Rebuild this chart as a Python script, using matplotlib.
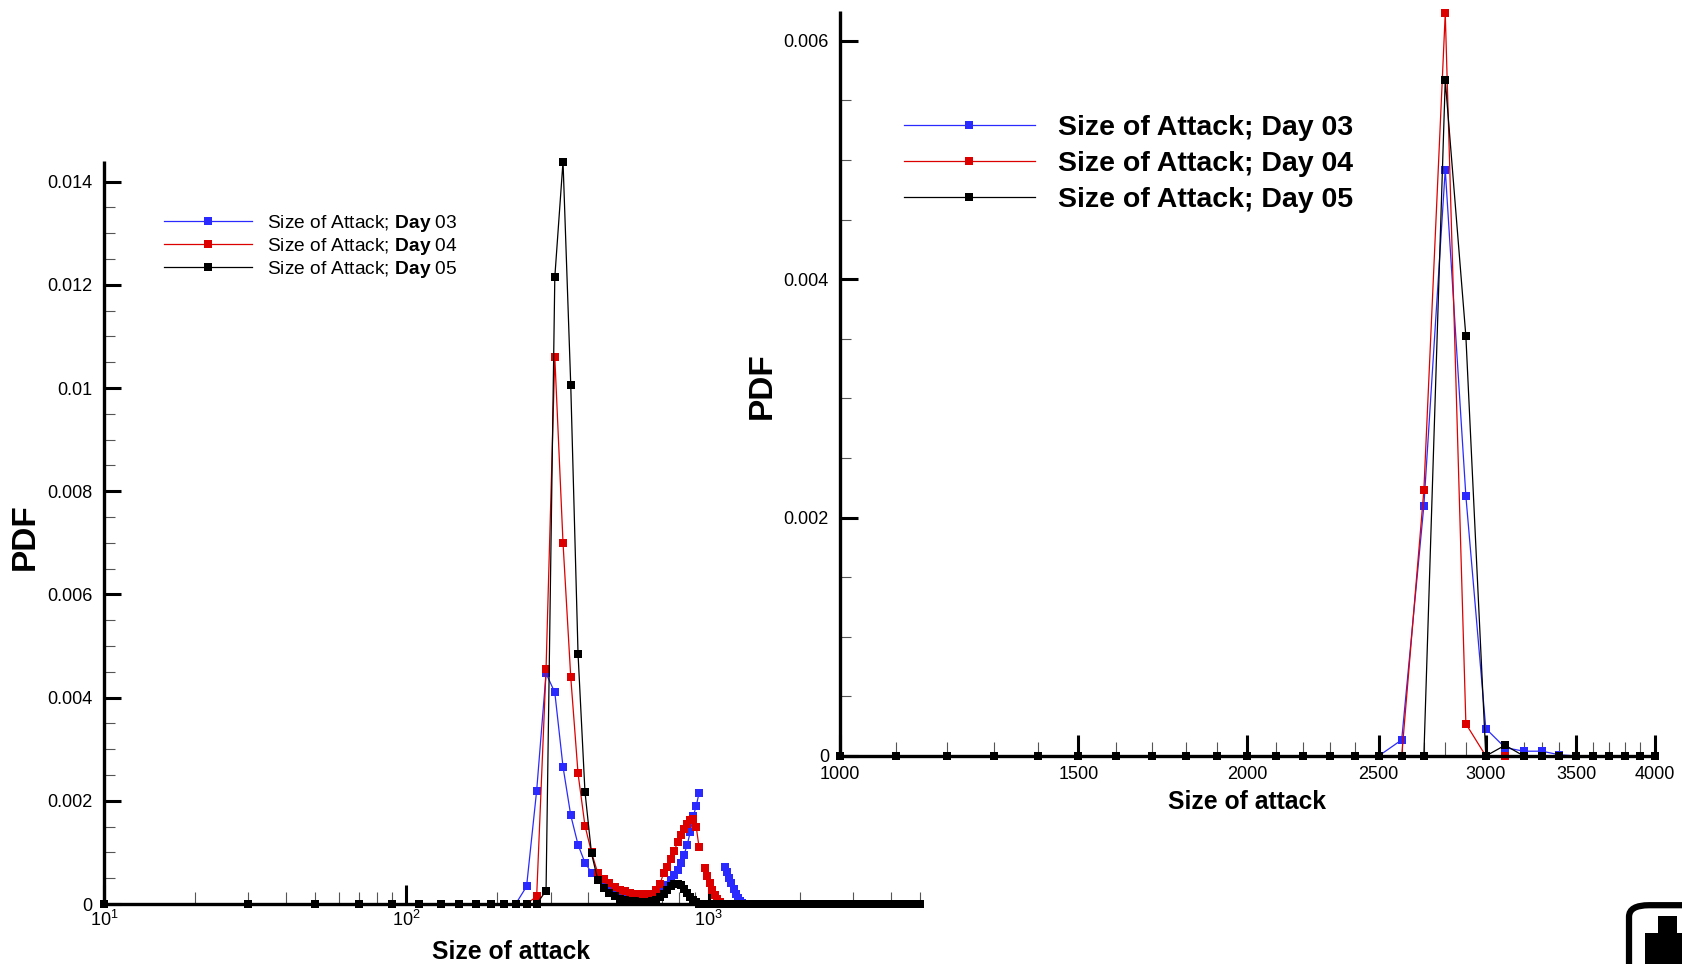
import numpy as np
import matplotlib.pyplot as plt
from matplotlib.ticker import FixedLocator, FuncFormatter, LogLocator, NullFormatter
from matplotlib.patches import FancyBboxPatch, Rectangle

plt.rcParams['font.family'] = ['Liberation Sans', 'DejaVu Sans']
plt.rcParams['mathtext.fontset'] = 'custom'
plt.rcParams['mathtext.rm'] = 'Liberation Sans'
plt.rcParams['mathtext.bf'] = 'Liberation Sans:bold'

# ---- left panel: log-binned sizes, 20-wide bins from 10 to 4990
size_bins = np.arange(10, 5000, 20)
peak_first_bin = 230          # first bin of the lists below (230 ... 1330)

day03_peak = [0, 0.00034, 0.0022, 0.00447, 0.0041, 0.00266, 0.00172, 0.00115,
              0.0008, 0.00061, 0.00048, 0.0004, 0.00033, 0.00028, 0.00024,
              0.00021, 0.00019, 0.00018, 0.00017, 0.00017, 0.00017, 0.00017,
              0.0002, 0.00024, 0.0003, 0.00037, 0.00046, 0.00056, 0.00066,
              0.0008, 0.00096, 0.00115, 0.0014, 0.0017, 0.0019, 0.00215,
              np.nan, np.nan, np.nan, np.nan, np.nan, np.nan, np.nan, np.nan,
              np.nan, 0.00072, 0.00062, 0.0005, 0.0004, 0.0003, 0.0002,
              0.00012, 0.00006, 0.00002, 0, 0]
day04_peak = [0, 0, 0.00015, 0.00456, 0.0106, 0.0070, 0.0044, 0.00253,
              0.00152, 0.001, 0.0006, 0.00048, 0.0004, 0.00033, 0.00028,
              0.00025, 0.00022, 0.0002, 0.00019, 0.00019, 0.00019, 0.0002,
              0.00028, 0.00038, 0.0006, 0.00072, 0.00088, 0.00103, 0.0012,
              0.00133, 0.00145, 0.00155, 0.00162, 0.00165, 0.0015, 0.0011,
              np.nan, 0.0007, 0.00055, 0.0004, 0.00028, 0.00018, 0.0001,
              0.00004, 0, 0, 0, 0, 0, 0, 0, 0, 0, 0, 0, 0]
day05_peak = [0, 0, 0, 0.00026, 0.01215, 0.01439, 0.01006, 0.00485,
              0.00218, 0.00098, 0.00047, 0.00032, 0.00022, 0.00015, 0.0001,
              0.00008, 0.00006, 0.00005, 0.00004, 0.00004, 0.00004, 0.00005,
              0.00008, 0.00013, 0.0002, 0.00028, 0.00034, 0.00038, 0.00039,
              0.00036, 0.0003, 0.00022, 0.00014, 0.00007, 0.00003,
              0, 0, 0, 0, 0, 0, 0, 0, 0, 0, 0, 0, 0, 0, 0, 0, 0, 0, 0, 0, 0]

# ---- right panel: 100-wide bins from 1000 to 4000
size_bins_zoom = np.arange(1000, 4001, 100)
day03_zoom = [0] * 16 + [0.000135, 0.0021, 0.00492, 0.00218, 0.00023, 0.00007,
                         0.00004, 0.00004, 0.00001] + [0] * 6
day04_zoom = [0] * 17 + [0.00223, 0.00623, 0.00027] + [0] * 11
day05_zoom = [0] * 18 + [0.00567, 0.00352, 0, 0.00009] + [0] * 9

labels_left = [r'Size of Attack; $\mathbf{Day}$ 03',
               r'Size of Attack; $\mathbf{Day}$ 04',
               r'Size of Attack; $\mathbf{Day}$ 05']
labels_right = ['Size of Attack; Day 03', 'Size of Attack; Day 04',
                'Size of Attack; Day 05']
colors = ['#2a2aff', '#dd0000', '#000000']


def full_series(peak):
    y = np.zeros(len(size_bins))
    i0 = int((peak_first_bin - size_bins[0]) // 20)
    y[i0:i0 + len(peak)] = peak
    return y


def style_axes(ax):
    ax.patch.set_alpha(0)
    for s in ['top', 'right']:
        ax.spines[s].set_visible(False)
    for s in ['left', 'bottom']:
        ax.spines[s].set_linewidth(2.4)
        ax.spines[s].set_capstyle('butt')


fig = plt.figure(figsize=(16.82, 9.64), dpi=100)
ax1 = fig.add_axes([0.0618, 0.0622, 0.4851, 0.7708])
ax2 = fig.add_axes([0.4994, 0.2158, 0.4845, 0.7728])

# left panel
for peak, c, lab in zip([day03_peak, day04_peak, day05_peak], colors, labels_left):
    ax1.plot(size_bins, full_series(peak), color=c, lw=0.9, marker='s', ms=5.2,
             mew=0, clip_on=False, label=lab)
style_axes(ax1)
ax1.set_xscale('log')
ax1.set_xlim(10, 5000)
ax1.set_ylim(0, 0.0144)
ax1.yaxis.set_major_locator(FixedLocator(np.arange(0, 0.0141, 0.002)))
ax1.yaxis.set_minor_locator(FixedLocator(np.arange(0, 0.0144, 0.0005)))
ax1.yaxis.set_major_formatter(FuncFormatter(lambda v, p: '%g' % round(v, 4)))
ax1.xaxis.set_major_locator(LogLocator(base=10))
ax1.xaxis.set_minor_locator(LogLocator(base=10, subs=np.arange(2, 10)))
ax1.xaxis.set_minor_formatter(NullFormatter())
ax1.tick_params(axis='y', which='major', direction='in', length=12, width=2.2,
                labelsize=13, pad=8)
ax1.tick_params(axis='y', which='minor', direction='in', length=8, width=0.8,
                color='#555555')
ax1.tick_params(axis='x', which='major', direction='in', length=14, width=2.2,
                labelsize=13, pad=4)
ax1.tick_params(axis='x', which='minor', direction='in', length=9, width=0.8,
                color='#555555')
ax1.set_ylabel('PDF', fontsize=24, fontweight='bold')
ax1.yaxis.set_label_coords(-0.077, 0.495)
ax1.set_xlabel('Size of attack', fontsize=17.8, fontweight='bold')
ax1.xaxis.set_label_coords(0.499, -0.049)
ax1.legend(loc='upper left', bbox_to_anchor=(0.0735, 0.9305), frameon=False,
           fontsize=13.8, handlelength=4.6, handletextpad=0.8, labelspacing=0.11,
           borderpad=0, borderaxespad=0)

# right panel
for y, c, lab in zip([day03_zoom, day04_zoom, day05_zoom], colors, labels_right):
    ax2.plot(size_bins_zoom, y, color=c, lw=0.9, marker='s', ms=5.2, mew=0,
             clip_on=False, label=lab)
style_axes(ax2)
ax2.set_xscale('log')
ax2.set_xlim(1000, 4000)
ax2.set_ylim(0, 0.00625)
ax2.yaxis.set_major_locator(FixedLocator(np.arange(0, 0.0061, 0.002)))
ax2.yaxis.set_minor_locator(FixedLocator(np.arange(0, 0.00625, 0.0005)))
ax2.yaxis.set_major_formatter(FuncFormatter(lambda v, p: '%g' % round(v, 4)))
ax2.xaxis.set_major_locator(FixedLocator(np.arange(1000, 4001, 500)))
ax2.xaxis.set_minor_locator(FixedLocator(np.arange(1000, 4001, 100)))
ax2.xaxis.set_major_formatter(FuncFormatter(lambda v, p: '%d' % v))
ax2.xaxis.set_minor_formatter(NullFormatter())
ax2.tick_params(axis='y', which='major', direction='in', length=13, width=2.2,
                labelsize=13, pad=8)
ax2.tick_params(axis='y', which='minor', direction='in', length=8, width=0.8,
                color='#555555')
ax2.tick_params(axis='x', which='major', direction='in', length=15, width=2.2,
                labelsize=13, pad=7)
ax2.tick_params(axis='x', which='minor', direction='in', length=10, width=0.8,
                color='#555555')
ax2.set_ylabel('PDF', fontsize=24, fontweight='bold')
ax2.yaxis.set_label_coords(-0.076, 0.497)
ax2.set_xlabel('Size of attack', fontsize=17.8, fontweight='bold')
ax2.xaxis.set_label_coords(0.499, -0.046)
ax2.legend(loc='upper left', bbox_to_anchor=(0.0785, 0.86), frameon=False,
           prop={'size': 20.5, 'weight': 'bold'}, handlelength=4.6,
           handletextpad=0.8, labelspacing=0.34, borderpad=0, borderaxespad=0)

# corner emblem, partly off the page
fig.patches.append(FancyBboxPatch((0.9685, -0.06), 0.08, 0.121,
                                  boxstyle='round,pad=0,rounding_size=0.012',
                                  transform=fig.transFigure, fill=False,
                                  lw=4.5, ec='black'))
fig.patches.append(Rectangle((0.978, 0.0), 0.03, 0.032, transform=fig.transFigure,
                             fc='black', ec='none'))
fig.patches.append(Rectangle((0.986, 0.0), 0.011, 0.05, transform=fig.transFigure,
                             fc='black', ec='none'))

fig.savefig('out.png', dpi=100)
